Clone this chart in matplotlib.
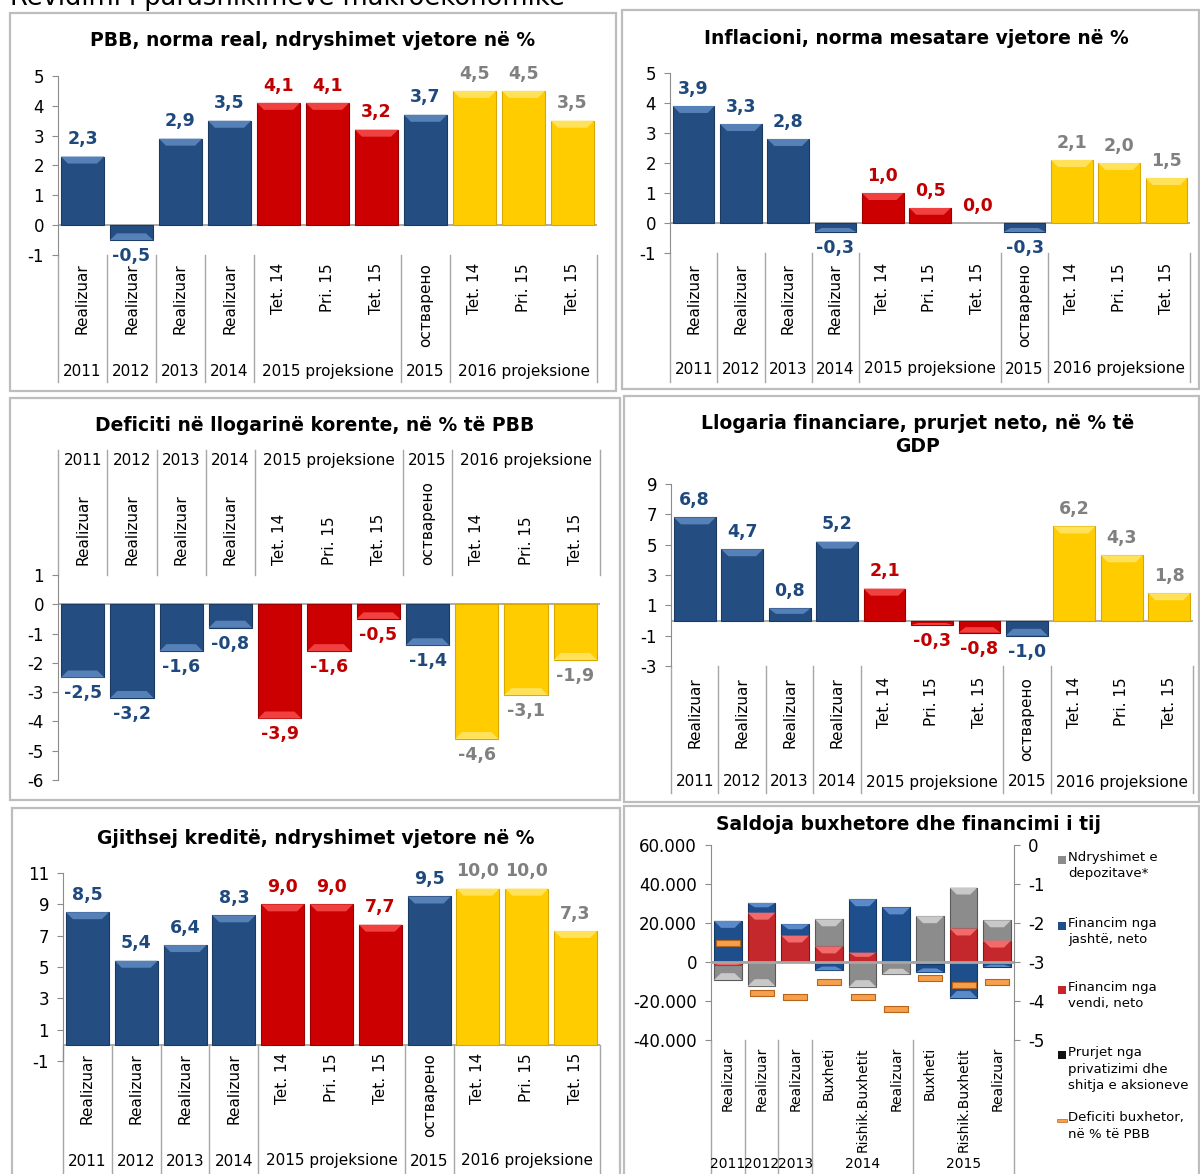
import matplotlib
matplotlib.use('Agg')
import matplotlib.pyplot as plt
from matplotlib.patches import Rectangle, Polygon
from matplotlib.lines import Line2D
from matplotlib.transforms import blended_transform_factory

W, H = 1200, 1174
plt.rcParams['font.family'] = ['DejaVu Sans']
plt.rcParams['axes.unicode_minus'] = False

# categories shared by the five bar panels
cats = ['Realizuar', 'Realizuar', 'Realizuar', 'Realizuar', 'Tet. 14', 'Pri. 15', 'Tet. 15',
        'остварено', 'Tet. 14', 'Pri. 15', 'Tet. 15']
groups = [(0, 0, '2011'), (1, 1, '2012'), (2, 2, '2013'), (3, 3, '2014'),
          (4, 6, '2015 projeksione'), (7, 7, '2015'), (8, 10, '2016 projeksione')]
kinds = ['b', 'b', 'b', 'b', 'r', 'r', 'r', 'b', 'y', 'y', 'y']

gdp = [2.3, -0.5, 2.9, 3.5, 4.1, 4.1, 3.2, 3.7, 4.5, 4.5, 3.5]
inflation = [3.9, 3.3, 2.8, -0.3, 1.0, 0.5, 0.0, -0.3, 2.1, 2.0, 1.5]
current_account = [-2.5, -3.2, -1.6, -0.8, -3.9, -1.6, -0.5, -1.4, -4.6, -3.1, -1.9]
financial_account = [6.8, 4.7, 0.8, 5.2, 2.1, -0.3, -0.8, -1.0, 6.2, 4.3, 1.8]
credit = [8.5, 5.4, 6.4, 8.3, 9.0, 9.0, 7.7, 9.5, 10.0, 10.0, 7.3]

# budget balance and its financing (millions of denars)
budget_cats = ['Realizuar', 'Realizuar', 'Realizuar', 'Buxheti', 'Rishik.Buxhetit', 'Realizuar',
               'Buxheti', 'Rishik.Buxhetit', 'Realizuar']
budget_groups = [(0, 0, '2011'), (1, 1, '2012'), (2, 2, '2013'), (3, 5, '2014'), (6, 8, '2015')]
domestic = [-1500, 25300, 13600, 8000, 4800, 0, -850, 17200, 11000]
foreign = [21100, 5000, 5800, -4250, 27400, 28000, -4400, -18500, -2550]
deposits = [-7700, -12400, 0, 13900, -12900, -6300, 23500, 21000, 10400]
privatization = [0, 0, 0, 0, 0, 0, 0, 0, 0]
deficit = [-2.5, -3.8, -3.9, -3.5, -3.9, -4.2, -3.4, -3.6, -3.5]

fill = {'b': '#244E82', 'r': '#CC0000', 'y': '#FFCC00',
        'g': '#8C8C8C', 'fb': '#1F4E8C', 'fr': '#C4272C'}
light = {'b': '#5680B8', 'r': '#F04040', 'y': '#FFE25A',
         'g': '#C8C8C8', 'fb': '#5B8ACB', 'fr': '#F26A6A'}
edge = {'b': '#1A3A62', 'r': '#9A0000', 'y': '#D8A800',
        'g': '#5A5A5A', 'fb': '#163A68', 'fr': '#8A1518'}
text_col = {'b': '#1F497D', 'r': '#C00000', 'y': '#808080'}
axis_col = '#8C8C8C'

fig = plt.figure(figsize=(W / 100, H / 100), dpi=100)


def fy(py):
    return 1 - py / H


def add_ax(x0, y0, x1, y1):
    return fig.add_axes([x0 / W, 1 - y1 / H, (x1 - x0) / W, (y1 - y0) / H])


def box(x0, y0, x1, y1):
    fig.patches.append(Rectangle((x0 / W, 1 - y1 / H), (x1 - x0) / W, (y1 - y0) / H,
                                 transform=fig.transFigure, fill=False, ec='#BDBDBD', lw=1.6))


def style(ax, ymin, ymax, ticks, n, fmt=None):
    ax.set_xlim(-0.5, n - 0.5)
    ax.set_ylim(ymin, ymax)
    ax.set_yticks(ticks)
    if fmt:
        ax.set_yticklabels([fmt(t) for t in ticks])
    ax.set_xticks([])
    ax.patch.set_alpha(0)
    for s in ['top', 'right', 'bottom']:
        ax.spines[s].set_visible(False)
    ax.spines['left'].set_color(axis_col)
    ax.tick_params(axis='y', direction='out', length=4, color=axis_col, labelsize=12, pad=6)
    ax.axhline(0, color='#A6A6A6', lw=1.3, zorder=1)


def bar(ax, x, lo, hi, k, width, px_h, px_w):
    if hi == lo:
        return
    ax.add_patch(Rectangle((x - width / 2, lo), width, hi - lo, fc=fill[k], ec=edge[k],
                           lw=0.8, zorder=3))
    # bevel on the outer end of the bar
    sgn = 1 if hi > 0 or (hi == 0 and lo >= 0) else -1
    end = hi if sgn > 0 else lo
    h = min(7 * px_h, abs(hi - lo) * 0.45)
    d = min(7 * px_w, width * 0.3)
    inner = end - sgn * h
    ax.add_patch(Polygon([(x - width / 2, end), (x + width / 2, end),
                          (x + width / 2 - d, inner), (x - width / 2 + d, inner)],
                         closed=True, fc=light[k], ec='none', zorder=4))


def categories(ax, labels, grps, top, year_y, sep, size=11, year_size=11, above=False):
    tr = blended_transform_factory(ax.transData, fig.transFigure)
    for i, c in enumerate(labels):
        ax.text(i, fy(top), c, transform=tr, rotation=90, ha='center',
                va='bottom' if above else 'top', fontsize=size, clip_on=False)
    edges = [grps[0][0] - 0.5] + [g[1] + 0.5 for g in grps]
    for e in edges:
        ax.add_line(Line2D([e, e], [fy(sep[0]), fy(sep[1])], transform=tr, color='#A6A6A6',
                           lw=1.0, clip_on=False))
    for a, b, t in grps:
        ax.text((a + b) / 2, fy(year_y), t, transform=tr, ha='center', va='center',
                fontsize=year_size, clip_on=False)


def bar_panel(rect, values, ymin, ymax, ticks, label_top, year_y, sep, above=False):
    x0, y0, x1, y1 = rect
    ax = add_ax(*rect)
    style(ax, ymin, ymax, ticks, len(values))
    px_h = (ymax - ymin) / (y1 - y0)
    px_w = len(values) / (x1 - x0)
    for i, v in enumerate(values):
        bar(ax, i, min(0, v), max(0, v), kinds[i], 0.88, px_h, px_w)
        txt = f'{v:.1f}'.replace('.', ',')
        pos = v >= 0
        ax.annotate(txt, (i, v), xytext=(0, 6 if pos else -5), textcoords='offset points',
                    ha='center', va='bottom' if pos else 'top', fontsize=12.5,
                    fontweight='bold', color=text_col[kinds[i]], zorder=5)
    categories(ax, cats, groups, label_top, year_y, sep, above=above)
    return ax


# header of the page, cut by the top edge
fig.text(10 / W, fy(5), 'Revidimi i parashikimeve makroekonomike', fontsize=18.5,
         ha='left', va='baseline')

# panel frames
box(10, 13, 616, 391)
box(622, 10, 1199, 389)
box(10, 398, 620, 800)
box(624, 396, 1199, 802)
box(12, 808, 620, 1180)
box(624, 806, 1199, 1180)

title_kw = dict(ha='center', va='center', fontsize=13.5, fontweight='bold')

fig.text(313 / W, fy(41), 'PBB, norma real, ndryshimet vjetore në %', **title_kw)
bar_panel((58, 76, 597, 255), gdp, -1, 5, range(5, -2, -1), 263, 371, (255, 382))

fig.text(916 / W, fy(39), 'Inflacioni, norma mesatare vjetore në %', **title_kw)
bar_panel((670, 73, 1190, 253), inflation, -1, 5, range(5, -2, -1), 263, 369, (253, 382))

fig.text(315 / W, fy(426), 'Deficiti në llogarinë korente, në % të PBB', **title_kw)
bar_panel((58, 575, 600, 780), current_account, -6, 1, range(1, -7, -1), 565, 460,
          (450, 575), above=True)

fig.text(918 / W, fy(435), 'Llogaria financiare, prurjet neto, në % të\nGDP',
         linespacing=1.25, **title_kw)
bar_panel((671, 484, 1193, 666), financial_account, -3, 9, range(9, -4, -2), 677, 782,
          (666, 793))

fig.text(316 / W, fy(838), 'Gjithsej kreditë, ndryshimet vjetore në %', **title_kw)
bar_panel((63, 873, 600, 1061), credit, -1, 11, range(11, -2, -2), 1053, 1161, (1045, 1180))

# budget balance panel
fig.text(908 / W, fy(825), 'Saldoja buxhetore dhe financimi i tij', **title_kw)
rect6 = (711, 845, 1014, 1040)
ax = add_ax(*rect6)
n6 = len(budget_cats)
style(ax, -40000, 60000, range(60000, -40001, -20000), n6,
      fmt=lambda t: f'{t:,.0f}'.replace(',', '.'))
px_h = 100000 / (rect6[3] - rect6[1])
px_w = n6 / (rect6[2] - rect6[0])
series = [(domestic, 'fr'), (foreign, 'fb'), (deposits, 'g'), (privatization, 'b')]
pos_base = [0.0] * n6
neg_base = [0.0] * n6
for vals, k in series:
    for i, v in enumerate(vals):
        if v > 0:
            bar(ax, i, pos_base[i], pos_base[i] + v, k, 0.82, px_h, px_w)
            pos_base[i] += v
        elif v < 0:
            bar(ax, i, neg_base[i] + v, neg_base[i], k, 0.82, px_h, px_w)
            neg_base[i] += v
ax.axhline(0, color='#A6A6A6', lw=2, zorder=6)

ax2 = ax.twinx()
ax2.set_ylim(-5, 0)
ax2.set_yticks(range(0, -6, -1))
ax2.patch.set_alpha(0)
for s in ['top', 'left', 'bottom']:
    ax2.spines[s].set_visible(False)
ax2.spines['right'].set_color(axis_col)
ax2.tick_params(axis='y', direction='out', length=4, color=axis_col, labelsize=12, pad=6)
dash = [(-1.6, -0.45), (1.6, -0.45), (1.6, 0.45), (-1.6, 0.45), (-1.6, -0.45)]
ax2.plot(range(n6), deficit, ls='none', marker=dash, ms=17, mfc='#F6A04D', mec='#B8651C',
         mew=0.8, zorder=7)
categories(ax, budget_cats, budget_groups, 1047, 1164, (1040, 1180), size=10, year_size=10)

# legend of the budget panel
legend_items = [('g', 'Ndryshimet e\ndepozitave*', 860),
                ('fb', 'Financim nga\njashtë, neto', 926),
                ('fr', 'Financim nga\nvendi, neto', 990),
                ('k', 'Prurjet nga\nprivatizimi dhe\nshitja e aksioneve', 1055),
                ('o', 'Deficiti buxhetor,\nnë % të PBB', 1120)]
for k, lbl, y in legend_items:
    if k == 'o':
        fig.patches.append(Rectangle((1057 / W, fy(y + 2)), 10 / W, 3 / H,
                                     transform=fig.transFigure, fc='#F6A04D', ec='#B8651C', lw=0.5))
    else:
        fc = '#111111' if k == 'k' else fill[k]
        fig.patches.append(Rectangle((1058 / W, fy(y + 4)), 8 / W, 8 / H,
                                     transform=fig.transFigure, fc=fc, ec='none'))
    fig.text(1068 / W, fy(y - 9), lbl, ha='left', va='top', fontsize=9.5, linespacing=1.35)

fig.savefig('out.png', dpi=100)
